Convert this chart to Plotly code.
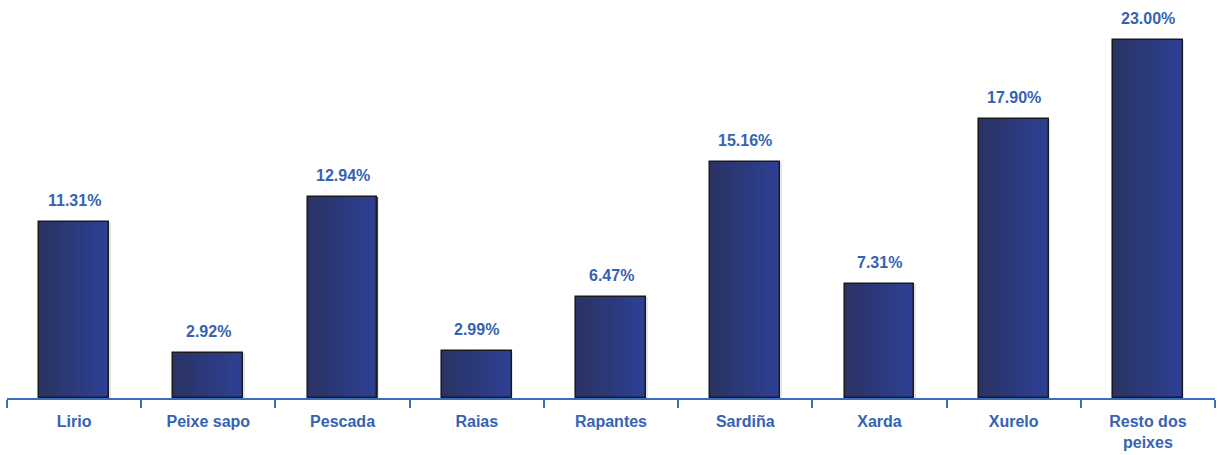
import plotly.graph_objects as go

categories = ["Lirio", "Peixe sapo", "Pescada", "Raias", "Rapantes",
              "Sardiña", "Xarda", "Xurelo", "Resto dos<br>peixes"]
values = [11.31, 2.92, 12.94, 2.99, 6.47, 15.16, 7.31, 17.90, 23.00]
value_labels = [f"{v:.2f}%" for v in values]

BLUE_TEXT = "#3563b3"
AXIS_COLOR = "#3a6cc0"
DARK = (42, 51, 100)
LIGHT = (45, 64, 148)
FONT = "Arial, Liberation Sans, sans-serif"

BAR_W = 0.52
N_STRIPS = 24

fig = go.Figure()

# soft shadow behind bars
fig.add_trace(go.Bar(
    x=categories, y=values, width=BAR_W + 0.025,
    marker=dict(color="rgba(0,0,0,0.10)", line=dict(width=0)),
    hoverinfo="skip", showlegend=False,
))

# horizontal gradient built from narrow strips
sw = BAR_W / N_STRIPS
for i in range(N_STRIPS):
    t = i / (N_STRIPS - 1)
    r = round(DARK[0] + (LIGHT[0] - DARK[0]) * t)
    g = round(DARK[1] + (LIGHT[1] - DARK[1]) * t)
    b = round(DARK[2] + (LIGHT[2] - DARK[2]) * t)
    fig.add_trace(go.Bar(
        x=categories, y=values, width=sw * 1.05,
        offset=-BAR_W / 2 + i * sw,
        marker=dict(color=f"rgb({r},{g},{b})", line=dict(width=0)),
        hoverinfo="skip", showlegend=False,
    ))

# outline
fig.add_trace(go.Bar(
    x=categories, y=values, width=BAR_W,
    marker=dict(color="rgba(0,0,0,0)", line=dict(color="#1a1a1a", width=1.5)),
    showlegend=False,
))

for c, v, lab in zip(categories, values, value_labels):
    fig.add_annotation(
        x=c, y=v, text=f"<b>{lab}</b>", showarrow=False,
        yanchor="bottom", yshift=11,
        font=dict(family=FONT, size=16, color=BLUE_TEXT),
    )

fig.update_layout(
    barmode="overlay",
    width=1218, height=455,
    margin=dict(l=7, r=3, t=10, b=57),
    paper_bgcolor="white", plot_bgcolor="white",
    bargap=0,
)
fig.update_xaxes(
    automargin=False,
    showline=True, linecolor=AXIS_COLOR, linewidth=2,
    ticks="outside", tickson="boundaries", ticklen=8, tickwidth=2,
    tickcolor=AXIS_COLOR, showgrid=False, ticklabelstandoff=8,
    tickfont=dict(family=FONT, size=16, color=BLUE_TEXT, weight="bold"),
)
fig.update_yaxes(range=[0, 24.93], visible=False, showgrid=False)

fig.write_html("out.html", config={"displayModeBar": False},
               post_script="document.body.style.margin='0';")
